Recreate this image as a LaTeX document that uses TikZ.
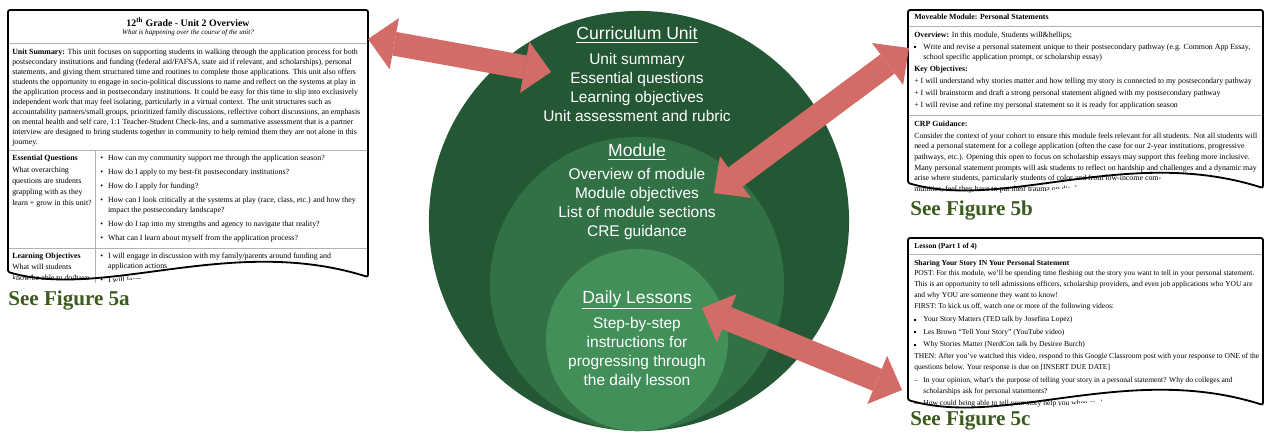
\documentclass[tikz,border=0pt]{standalone}
\usepackage{fontspec}
\setmainfont{Liberation Serif}
\newfontfamily\ringfont{Liberation Sans}
\usetikzlibrary{arrows.meta,positioning}

\definecolor{unitgreen}{HTML}{245834}
\definecolor{modgreen}{HTML}{327146}
\definecolor{lessongreen}{HTML}{428F59}
\definecolor{linkred}{HTML}{D36C67}
\definecolor{figgreen}{HTML}{3B5A1E}

% bullets used in the document extracts
\newcommand{\sqbul}{\makebox[6.5pt][l]{\rule[0.6pt]{1.4pt}{1.4pt}}}
\newcommand{\rdbul}{\makebox[5.5pt][l]{\textbullet}}

% outlines of the three extracts, torn along the bottom
\newcommand{\unitsheet}{(8,272) -- (8,10) -- (368,10) -- (368,277)
  .. controls (231,234) and (105,300) .. (8,272) -- cycle}
\newcommand{\modsheet}{(908,183) -- (908,10) -- (1263,10) -- (1263,188)
  .. controls (1128,145) and (1004,211) .. (908,183) -- cycle}
\newcommand{\lessonsheet}{(908,400) -- (908,238) -- (1263,238) -- (1263,405)
  .. controls (1128,362) and (1004,428) .. (908,400) -- cycle}

\tikzset{
  ring/.style={circle,inner sep=0pt,draw=none},
  ringhead/.style={text=white,font=\ringfont\fontsize{12.5}{15}\selectfont},
  ringitems/.style={text=white,align=center,font=\ringfont\fontsize{11}{13.5}\selectfont},
  sheetfill/.style={fill=white,rounded corners=1.5pt},
  sheetedge/.style={draw=black,line width=1.3pt,rounded corners=1.5pt},
  sheetrule/.style={draw=gray!60,line width=0.5pt},
  doctext/.style={anchor=north west,inner sep=0pt,align=left,font=\fontsize{5.6}{7.15}\selectfont},
  figref/.style={anchor=west,inner sep=0pt,text=figgreen,font=\bfseries\fontsize{15}{17}\selectfont},
  link/.style={draw=linkred,line width=17pt,
    {Triangle[length=19pt,width=37pt,line width=0pt]}-{Triangle[length=19pt,width=37pt,line width=0pt]}},
}

\begin{document}
\begin{tikzpicture}[x=0.025cm,y=-0.025cm]
\useasboundingbox (0,0) rectangle (1269,432);

% nested circles: unit > module > lesson
\node[ring,fill=unitgreen,minimum size=10.5cm] (unit) at (639,221) {};
\node[ring,fill=modgreen,minimum size=7.35cm] (module) at (637,284) {};
\node[ring,fill=lessongreen,minimum size=4.55cm] (lesson) at (637,340) {};

\node[ringhead] (unithead) at (637,35) {\underline{Curriculum Unit}};
\node[ringitems] (unititems) at (637,87) {Unit summary\\Essential questions\\Learning objectives\\Unit assessment and rubric};
\node[ringhead] (modhead) at (637,152) {\underline{Module}};
\node[ringitems] (moditems) at (637,204) {Overview of module\\Module objectives\\List of module sections\\CRE guidance};
\node[ringhead] (dayhead) at (637,300) {\underline{Daily Lessons}};
\node[ringitems] (dayitems) at (637,353) {Step-by-step\\instructions for\\progressing through\\the daily lesson};

% unit overview extract
\fill[sheetfill] \unitsheet;
\begin{scope}
\clip (8,0) -- (368,0) -- (368,282) .. controls (231,239) and (105,305) .. (8,277) -- cycle;
\node[anchor=center,inner sep=0pt,font=\bfseries\fontsize{7}{8}\selectfont] (unittitle) at (188,22) {12\textsuperscript{th} Grade - Unit 2 Overview};
\node[anchor=center,inner sep=0pt,font=\itshape\fontsize{5}{6}\selectfont] (unitsub) at (188,33) {What is happening over the course of the unit?};
\draw[sheetrule] (8,43) -- (368,43);
\node[doctext] (unitsum) at (12,48.5) {\textbf{Unit Summary:} This unit focuses on supporting students in walking through the application process for both\\
postsecondary institutions and funding (federal aid/FAFSA, state aid if relevant, and scholarships), personal\\
statements, and giving them structured time and routines to complete those applications. This unit also offers\\
students the opportunity to engage in socio-political discussions to name and reflect on the systems at play in\\
the application process and in postsecondary institutions. It could be easy for this time to slip into exclusively\\
independent work that may feel isolating, particularly in a virtual context. The unit structures such as\\
accountability partners/small groups, prioritized family discussions, reflective cohort discussions, an emphasis\\
on mental health and self care, 1:1 Teacher-Student Check-Ins, and a summative assessment that is a partner\\
interview are designed to bring students together in community to help remind them they are not alone in this\\
journey.};
\draw[sheetrule] (8,150) -- (368,150);
\draw[sheetrule] (95,150) -- (95,300);
\node[doctext,font=\fontsize{5.6}{7.8}\selectfont] (eqlabel) at (12,154.5) {\textbf{Essential Questions}\\[0.7pt]
What overarching\\questions are students\\grappling with as they\\learn + grow in this unit?};
\node[doctext] (eqlist) at (100,154.5) {\rdbul How can my community support me through the application season?\\[2.85pt]
\rdbul How do I apply to my best-fit postsecondary institutions?\\[2.85pt]
\rdbul How do I apply for funding?\\[2.85pt]
\rdbul How can I look critically at the systems at play (race, class, etc.) and how they\\
\hspace*{5.5pt}impact the postsecondary landscape?\\[2.85pt]
\rdbul How do I tap into my strengths and agency to navigate that reality?\\[2.85pt]
\rdbul What can I learn about myself from the application process?};
\draw[sheetrule] (8,248) -- (368,248);
\node[doctext,font=\fontsize{5.6}{7.8}\selectfont] (lolabel) at (12,252.5) {\textbf{Learning Objectives}\\What will students\\know/be able to do/have};
\node[doctext] (lolist) at (100,252.5) {\rdbul I will engage in discussion with my family/parents around funding and\\
\hspace*{5.5pt}application actions\\[2.85pt]
\rdbul I will learn essential information about};
\end{scope}
\draw[sheetedge] \unitsheet;
\node[figref] (figa) at (8,301) {See Figure 5a};

% module extract
\fill[sheetfill] \modsheet;
\begin{scope}
\clip (908,0) -- (1263,0) -- (1263,195) .. controls (1128,152) and (1004,218) .. (908,190) -- cycle;
\node[doctext] (modtitle) at (914,13.5) {\textbf{Moveable Module: Personal Statements}};
\draw[sheetrule] (908,26) -- (1263,26);
\node[doctext] (modover) at (914,31.5) {\textbf{Overview:} In this module, Students will\&hellips;\\[1.4pt]
\sqbul Write and revise a personal statement unique to their postsecondary pathway (e.g. Common App Essay,\\
\hspace*{6.5pt}school specific application prompt, or scholarship essay)\\[1.4pt]
\textbf{Key Objectives:}\\[1.4pt]
+ I will understand why stories matter and how telling my story is connected to my postsecondary pathway\\[1.4pt]
+ I will brainstorm and draft a strong personal statement aligned with my postsecondary pathway\\[1.4pt]
+ I will revise and refine my personal statement so it is ready for application season};
\draw[sheetrule] (908,115) -- (1263,115);
\node[doctext,font=\fontsize{5.6}{7.6}\selectfont] (modcrp) at (914,120.5) {\textbf{CRP Guidance:}\\[0.8pt]
Consider the context of your cohort to ensure this module feels relevant for all students. Not all students will\\
need a personal statement for a college application (often the case for our 2-year institutions, progressive\\
pathways, etc.). Opening this open to focus on scholarship essays may support this feeling more inclusive.\\
Many personal statement prompts will ask students to reflect on hardship and challenges and a dynamic may\\
arise where students, particularly students of color and from low-income com-\\
munities, feel they have to put their trauma on display.};
\end{scope}
\draw[sheetedge] \modsheet;
\node[figref] (figb) at (910,211) {See Figure 5b};

% lesson extract
\fill[sheetfill] \lessonsheet;
\begin{scope}
\clip (908,230) -- (1263,230) -- (1263,412) .. controls (1128,369) and (1004,435) .. (908,407) -- cycle;
\node[doctext,font=\fontsize{5.35}{7.15}\selectfont] (lestitle) at (914,242.5) {\textbf{Lesson (Part 1 of 4)}};
\draw[sheetrule] (908,254) -- (1263,254);
\node[doctext,font=\fontsize{5.35}{7.8}\selectfont] (lesbody) at (914,259.5) {\textbf{Sharing Your Story IN Your Personal Statement}\\
POST: For this module, we'll be spending time fleshing out the story you want to tell in your personal statement.\\
This is an opportunity to tell admissions officers, scholarship providers, and even job applications who YOU are\\
and why YOU are someone they want to know!\\
FIRST: To kick us off, watch one or more of the following videos:\\[1.2pt]
\sqbul Your Story Matters (TED talk by Josefina Lopez)\\[1.2pt]
\sqbul Les Brown ``Tell Your Story'' (YouTube video)\\[1.2pt]
\sqbul Why Stories Matter (NerdCon talk by Desiree Burch)\\[0.6pt]
THEN: After you've watched this video, respond to this Google Classroom post with your response to ONE of the\\
questions below. Your response is due on [INSERT DUE DATE]\\[1.2pt]
\makebox[6.5pt][l]{--}In your opinion, what's the purpose of telling your story in a personal statement? Why do colleges and\\
\hspace*{6.5pt}scholarships ask for personal statements?\\[1.2pt]
\makebox[6.5pt][l]{--}How could being able to tell your story help you when applying?};
\end{scope}
\draw[sheetedge] \lessonsheet;
\node[figref] (figc) at (910,421) {See Figure 5c};

% links from each extract to its circle
\coordinate (unitport) at (368,39);
\coordinate (unitaim) at (551,72);
\coordinate (modport) at (909,48);
\coordinate (modaim) at (714,193);
\coordinate (lessonport) at (902,390);
\coordinate (lessonaim) at (702,308);
\draw[link] (unitport) -- (unitaim);
\draw[link] (modport) -- (modaim);
\draw[link] (lessonaim) -- (lessonport);
\end{tikzpicture}
\end{document}
